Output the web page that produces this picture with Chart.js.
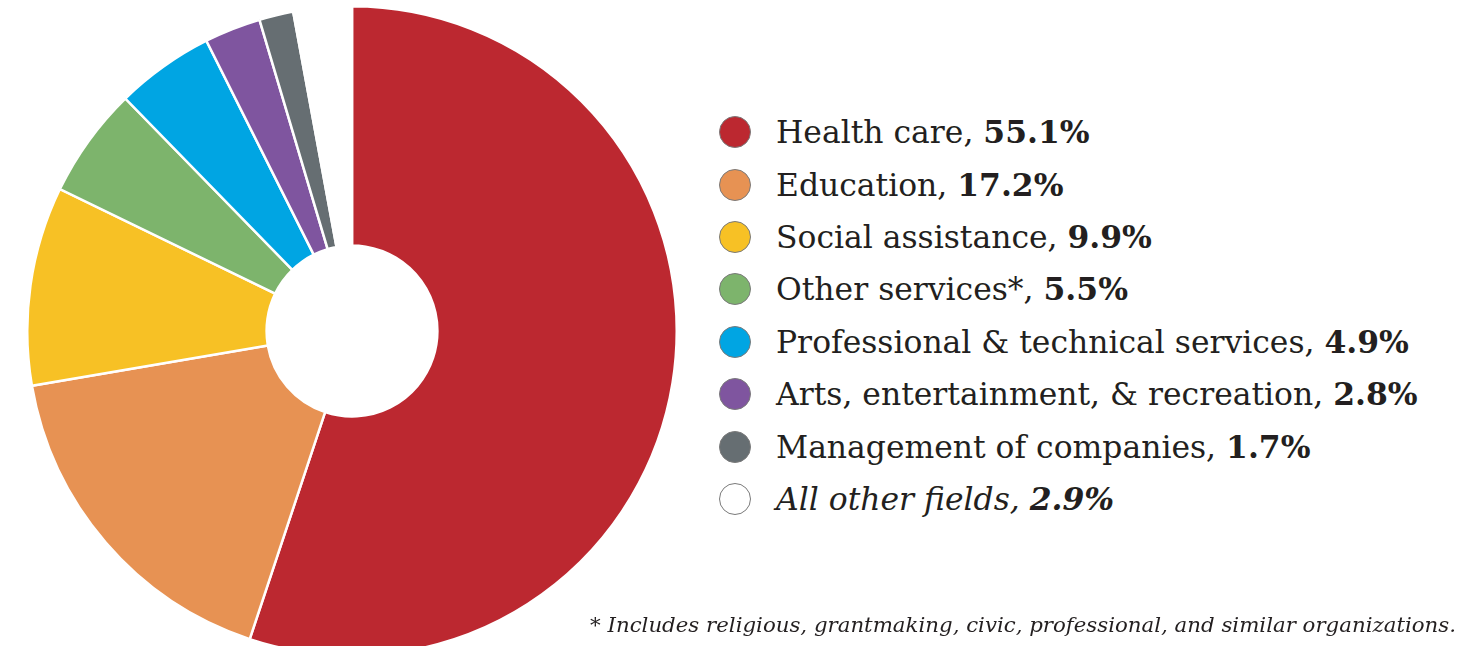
<!DOCTYPE html>
<html>
<head>
<meta charset="utf-8">
<script src="https://cdn.jsdelivr.net/npm/chart.js@4/dist/chart.umd.min.js"></script>
<style>
    html, body { margin: 0; padding: 0; background: #fff; overflow: hidden; }
    body { width: 1473px; height: 646px; position: relative; font-family: "DejaVu Serif", serif; color: #231f20; }
    #pie { position: absolute; left: 26px; top: 5px; }
    #legend { position: absolute; left: 719px; top: 106px; margin: 0; padding: 0; list-style: none; }
    #legend li { height: 52.4px; display: flex; align-items: center; font-size: 31.4px; white-space: nowrap; }
    #legend .dot { width: 32px; height: 32px; border-radius: 50%; border: 1.5px solid #7a7a7a; box-sizing: border-box; margin-right: 25px; flex: none; }
    #legend .other { font-style: italic; }
    #note { position: absolute; right: 17px; top: 612px; font-size: 21.3px; font-style: italic; white-space: nowrap; }
</style>
</head>
<body>
<canvas id="pie" width="652" height="652"></canvas>
<ul id="legend"></ul>
<div id="note">* Includes religious, grantmaking, civic, professional, and similar organizations.</div>
<script>
"use strict";

const fields = [
    "Health care",
    "Education",
    "Social assistance",
    "Other services*",
    "Professional & technical services",
    "Arts, entertainment, & recreation",
    "Management of companies",
    "All other fields"
];
const shares = [55.1, 17.2, 9.9, 5.5, 4.9, 2.8, 1.7, 2.9];
const colors = ["#bc2830", "#e79253", "#f7c125", "#7db46c", "#00a5e3", "#7f559f", "#666e72", "#ffffff"];

new Chart(document.getElementById("pie").getContext("2d"), {
    type: "doughnut",
    data: {
        labels: fields,
        datasets: [{
            data: shares,
            backgroundColor: colors,
            borderColor: "#ffffff",
            borderWidth: 2.5,
            borderJoinStyle: "miter"
        }]
    },
    options: {
        responsive: false,
        animation: false,
        cutout: "26.3%",
        layout: { padding: 0 },
        plugins: { legend: { display: false }, tooltip: { enabled: false } }
    }
});

// legend on the right: name plus bold percentage
const legend = document.getElementById("legend");
fields.forEach((name, i) => {
    const li = document.createElement("li");
    if (i === fields.length - 1) li.className = "other";
    const dot = document.createElement("span");
    dot.className = "dot";
    dot.style.background = colors[i];
    const label = document.createElement("span");
    label.textContent = name + ", ";
    const b = document.createElement("b");
    b.textContent = shares[i].toFixed(1) + "%";
    label.appendChild(b);
    li.appendChild(dot);
    li.appendChild(label);
    legend.appendChild(li);
});
</script>
</body>
</html>
